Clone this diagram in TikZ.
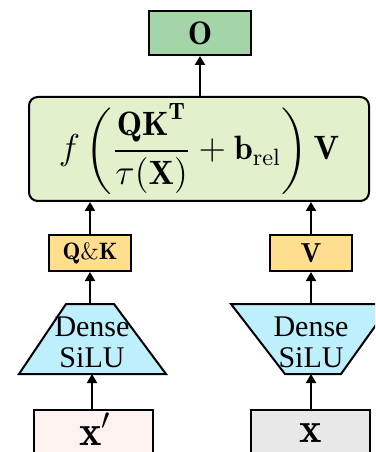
\documentclass[tikz,border=0pt]{standalone}
\usepackage{amsmath}
\usepackage{fontspec}
\newfontfamily\timesfont{Liberation Serif}
\usetikzlibrary{arrows.meta}
\definecolor{ogreen}{HTML}{A3D5A9}
\definecolor{fgreen}{HTML}{E2F0CB}
\definecolor{qkyel}{HTML}{FFDF8F}
\definecolor{dcyan}{HTML}{BDEFFC}
\definecolor{xpink}{HTML}{FDF2F0}
\definecolor{xgray}{HTML}{E8E8E8}
\tikzset{
  box/.style={draw, line width=0.8pt, inner sep=0pt},
  trap/.style={draw, line width=0.8pt, fill=dcyan, line join=miter},
  conn/.style={line width=0.8pt, -{Triangle[length=3.6pt,width=4pt]}},
  lbl/.style={font=\timesfont\fontsize{12}{12.5}\selectfont, align=center, inner sep=0pt}
}
\begin{document}
\begin{tikzpicture}[x=0.4pt,y=-0.4pt]
\useasboundingbox (0,0) rectangle (375,452);
\clip (0,0) rectangle (375,452);
% output
\node[box, fill=ogreen, minimum width=102*0.4pt, minimum height=44*0.4pt] (o) at (200,33)
  {\fontsize{13}{14}\selectfont$\mathbf{O}$};
% attention box
\node[box, fill=fgreen, rounded corners=3.5pt, minimum width=340*0.4pt, minimum height=104*0.4pt] (att) at (199,149)
  {\fontsize{13.5}{14}\selectfont$\displaystyle f\left(\frac{\mathbf{QK}^{\mathbf{T}}}{\tau(\mathbf{X})}+\mathbf{b}_{\mathrm{rel}}\right)\mathbf{V}$};
% Q&K and V
\node[box, fill=qkyel, minimum width=82*0.4pt, minimum height=36*0.4pt] (qk) at (90,253)
  {\fontsize{9.5}{10}\selectfont$\mathbf{Q}$\&$\mathbf{K}$};
\node[box, fill=qkyel, minimum width=82*0.4pt, minimum height=36*0.4pt] (v) at (311,253)
  {\fontsize{11}{12}\selectfont$\mathbf{V}$};
% trapezoids
\coordinate (dltop) at (90,304);
\coordinate (dlbot) at (92,374);
\draw[trap] (66,304) -- (114,304) -- (166,374) -- (19,374) -- cycle;
\node[lbl] (dl) at (92,342) {Dense\\SiLU};
\coordinate (drtop) at (311,304);
\coordinate (drbot) at (311,374);
\draw[trap] (231,304) -- (391,304) -- (341,374) -- (285,374) -- cycle;
\node[lbl] (dr) at (311,342) {Dense\\SiLU};
% inputs
\node[box, fill=xpink, minimum width=119*0.4pt, minimum height=70*0.4pt, anchor=north] (xp) at (93.5,409) {};
\node[font=\fontsize{17}{18}\selectfont, inner sep=0pt] (xpl) at (95,429) {$\mathbf{x}'$};
\node[box, fill=xgray, minimum width=119*0.4pt, minimum height=70*0.4pt, anchor=north] (xx) at (310.5,409) {};
\node[font=\fontsize{17}{18}\selectfont, inner sep=0pt] (xxl) at (310.5,433) {$\mathbf{x}$};
% connectors
\draw[conn] (att.north -| o.south) -- (o.south);
\draw[conn] (xp.north -| dlbot) -- (dlbot);
\draw[conn] (dltop) -- (qk.south);
\draw[conn] (qk.north) -- (att.south -| qk.north);
\draw[conn] (xx.north -| drbot) -- (drbot);
\draw[conn] (drtop) -- (v.south);
\draw[conn] (v.north) -- (att.south -| v.north);
\end{tikzpicture}
\end{document}
